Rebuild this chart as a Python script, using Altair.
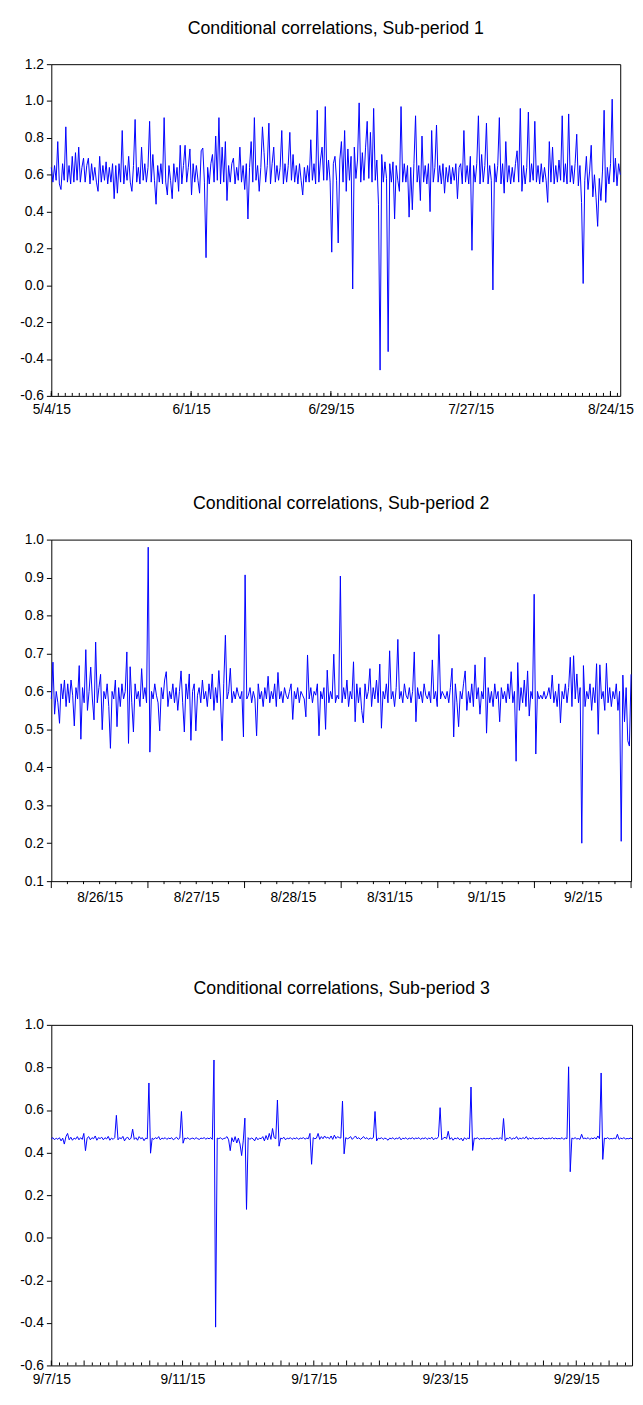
import altair as alt
import pandas as pd

FONT = "Liberation Sans"
TICK_FONT_SIZE = 14
TITLE_FONT_SIZE = 18

# ---------------- Sub-period 1 ----------------
P1_TITLE = "Conditional correlations, Sub-period 1"
P1_VALUES = [
    0.64, 0.56, 0.65, 0.57, 0.78, 0.55, 0.52, 0.66, 0.57, 0.86,
    0.56, 0.65, 0.55, 0.70, 0.56, 0.72, 0.57, 0.75, 0.56, 0.64,
    0.69, 0.56, 0.65, 0.69, 0.55, 0.66, 0.57, 0.64, 0.56, 0.51,
    0.70, 0.56, 0.65, 0.57, 0.67, 0.55, 0.64, 0.56, 0.66, 0.47,
    0.65, 0.50, 0.66, 0.56, 0.84, 0.55, 0.65, 0.57, 0.70, 0.56,
    0.51, 0.65, 0.90, 0.56, 0.64, 0.55, 0.75, 0.57, 0.66, 0.56,
    0.64, 0.89, 0.56, 0.71, 0.57, 0.44, 0.65, 0.56, 0.66, 0.55,
    0.91, 0.56, 0.49, 0.65, 0.57, 0.47, 0.66, 0.56, 0.64, 0.51,
    0.76, 0.55, 0.65, 0.76, 0.56, 0.64, 0.74, 0.49, 0.66, 0.56,
    0.65, 0.57, 0.50, 0.73, 0.745, 0.56, 0.15, 0.64, 0.55, 0.66,
    0.71, 0.56, 0.81, 0.57, 0.91, 0.55, 0.75, 0.56, 0.78, 0.46,
    0.65, 0.56, 0.66, 0.69, 0.55, 0.64, 0.57, 0.75, 0.56, 0.65,
    0.52, 0.66, 0.36, 0.64, 0.78, 0.56, 0.91, 0.57, 0.65, 0.51,
    0.64, 0.86, 0.72, 0.56, 0.65, 0.88, 0.55, 0.66, 0.75, 0.56,
    0.65, 0.57, 0.64, 0.84, 0.55, 0.66, 0.56, 0.65, 0.83, 0.57,
    0.71, 0.56, 0.65, 0.55, 0.66, 0.57, 0.49, 0.64, 0.56, 0.65,
    0.56, 0.79, 0.57, 0.66, 0.55, 0.95, 0.56, 0.68, 0.75, 0.57,
    0.97, 0.57, 0.68, 0.56, 0.18, 0.66, 0.70, 0.57, 0.23, 0.68,
    0.78, 0.56, 0.84, 0.51, 0.74, 0.57, 0.70, -0.02, 0.75, 0.58,
    0.68, 0.99, 0.56, 0.72, 0.57, 0.75, 0.89, 0.58, 0.83, 0.56,
    0.96, 0.57, 0.68, 0.44, -0.46, 0.71, 0.56, 0.67, 0.58, -0.36,
    0.66, 0.56, 0.67, 0.36, 0.65, 0.57, 0.51, 0.97, 0.56, 0.66,
    0.56, 0.65, 0.37, 0.64, 0.41, 0.66, 0.92, 0.56, 0.65, 0.46,
    0.81, 0.56, 0.65, 0.55, 0.66, 0.40, 0.84, 0.56, 0.64, 0.87,
    0.56, 0.65, 0.55, 0.66, 0.50, 0.64, 0.56, 0.65, 0.55, 0.64,
    0.57, 0.66, 0.47, 0.64, 0.66, 0.55, 0.84, 0.56, 0.65, 0.55,
    0.70, 0.19, 0.65, 0.56, 0.66, 0.92, 0.55, 0.71, 0.56, 0.65,
    0.88, 0.55, 0.65, 0.57, -0.025, 0.66, 0.56, 0.65, 0.91, 0.55,
    0.66, 0.50, 0.78, 0.56, 0.65, 0.55, 0.64, 0.56, 0.66, 0.73,
    0.56, 0.96, 0.51, 0.65, 0.55, 0.64, 0.94, 0.56, 0.66, 0.57,
    0.89, 0.56, 0.65, 0.55, 0.66, 0.56, 0.64, 0.57, 0.45, 0.78,
    0.56, 0.75, 0.55, 0.65, 0.56, 0.68, 0.57, 0.92, 0.56, 0.66,
    0.55, 0.93, 0.56, 0.65, 0.55, 0.66, 0.82, 0.54, 0.65, 0.45,
    0.01, 0.57, 0.70, 0.52, 0.62, 0.76, 0.48, 0.60, 0.475, 0.32,
    0.58, 0.46, 0.62, 0.95, 0.45, 0.64, 0.55, 0.66, 1.01, 0.56,
    0.69, 0.54, 0.66, 0.60,
]
P1_DATE_LABELS = ["5/4/15", "6/1/15", "6/29/15", "7/27/15", "8/24/15"]
P1_LABEL_DAYS = [0, 20, 40, 60, 80]          # business-day positions of labels
P1_SPAN_DAYS = 81.4
P1_Y_TICKS = [-0.6, -0.4, -0.2, 0.0, 0.2, 0.4, 0.6, 0.8, 1.0, 1.2]

# ---------------- Sub-period 2 ----------------
P2_TITLE = "Conditional correlations, Sub-period 2"
P2_VALUES = [
    0.58, 0.677, 0.54, 0.60, 0.57, 0.516, 0.62, 0.58, 0.63, 0.56,
    0.62, 0.57, 0.63, 0.59, 0.509, 0.61, 0.58, 0.668, 0.474, 0.61,
    0.57, 0.71, 0.55, 0.60, 0.664, 0.58, 0.525, 0.73, 0.57, 0.61,
    0.645, 0.499, 0.60, 0.58, 0.62, 0.56, 0.45, 0.60, 0.58, 0.63,
    0.507, 0.61, 0.56, 0.62, 0.58, 0.60, 0.704, 0.463, 0.665, 0.57,
    0.493, 0.62, 0.58, 0.60, 0.56, 0.66, 0.58, 0.61, 0.57, 0.98,
    0.44, 0.60, 0.58, 0.62, 0.59, 0.57, 0.496, 0.61, 0.58, 0.63,
    0.652, 0.56, 0.60, 0.58, 0.62, 0.57, 0.61, 0.55, 0.60, 0.654,
    0.57, 0.493, 0.62, 0.58, 0.646, 0.471, 0.60, 0.62, 0.496, 0.59,
    0.61, 0.57, 0.63, 0.58, 0.60, 0.56, 0.62, 0.58, 0.646, 0.55,
    0.61, 0.57, 0.655, 0.58, 0.47, 0.62, 0.748, 0.58, 0.60, 0.661,
    0.57, 0.60, 0.58, 0.61, 0.59, 0.58, 0.60, 0.48, 0.907, 0.58,
    0.59, 0.61, 0.57, 0.60, 0.58, 0.483, 0.62, 0.58, 0.60, 0.56,
    0.61, 0.58, 0.64, 0.57, 0.60, 0.58, 0.62, 0.56, 0.65, 0.58,
    0.60, 0.57, 0.61, 0.59, 0.58, 0.60, 0.62, 0.526, 0.60, 0.58,
    0.61, 0.57, 0.60, 0.59, 0.58, 0.533, 0.696, 0.58, 0.61, 0.57,
    0.60, 0.59, 0.62, 0.483, 0.60, 0.58, 0.61, 0.50, 0.656, 0.57,
    0.60, 0.58, 0.698, 0.57, 0.59, 0.58, 0.904, 0.57, 0.61, 0.58,
    0.63, 0.56, 0.60, 0.58, 0.678, 0.52, 0.62, 0.57, 0.61, 0.55,
    0.517, 0.62, 0.58, 0.60, 0.66, 0.56, 0.61, 0.58, 0.63, 0.57,
    0.672, 0.503, 0.60, 0.58, 0.62, 0.57, 0.707, 0.58, 0.60, 0.56,
    0.61, 0.737, 0.58, 0.60, 0.57, 0.62, 0.59, 0.58, 0.61, 0.57,
    0.60, 0.704, 0.52, 0.61, 0.58, 0.60, 0.57, 0.62, 0.59, 0.58,
    0.60, 0.57, 0.683, 0.58, 0.60, 0.56, 0.75, 0.58, 0.60, 0.59,
    0.58, 0.60, 0.57, 0.61, 0.661, 0.48, 0.62, 0.57, 0.507, 0.60,
    0.58, 0.62, 0.654, 0.55, 0.60, 0.57, 0.62, 0.56, 0.67, 0.58,
    0.61, 0.54, 0.60, 0.58, 0.69, 0.49, 0.61, 0.57, 0.60, 0.56,
    0.62, 0.58, 0.60, 0.52, 0.61, 0.58, 0.60, 0.57, 0.62, 0.58,
    0.652, 0.57, 0.60, 0.416, 0.676, 0.55, 0.61, 0.57, 0.63, 0.56,
    0.654, 0.535, 0.60, 0.58, 0.856, 0.435, 0.60, 0.58, 0.59, 0.58,
    0.60, 0.58, 0.59, 0.61, 0.58, 0.643, 0.57, 0.60, 0.56, 0.62,
    0.517, 0.60, 0.58, 0.62, 0.57, 0.61, 0.69, 0.56, 0.694, 0.58,
    0.646, 0.57, 0.61, 0.20, 0.668, 0.56, 0.60, 0.58, 0.62, 0.55,
    0.61, 0.57, 0.673, 0.487, 0.67, 0.58, 0.60, 0.55, 0.674, 0.57,
    0.61, 0.56, 0.60, 0.58, 0.62, 0.55, 0.60, 0.205, 0.643, 0.52,
    0.61, 0.47, 0.456, 0.645,
]
P2_DATE_LABELS = ["8/26/15", "8/27/15", "8/28/15", "8/31/15", "9/1/15", "9/2/15"]
P2_SPAN_DAYS = 6
P2_Y_TICKS = [0.1, 0.2, 0.3, 0.4, 0.5, 0.6, 0.7, 0.8, 0.9, 1.0]

# ---------------- Sub-period 3 ----------------
P3_TITLE = "Conditional correlations, Sub-period 3"
P3_VALUES = [
    0.465, 0.47, 0.46, 0.468, 0.462, 0.47, 0.455, 0.468, 0.44, 0.475,
    0.49, 0.46, 0.472, 0.458, 0.468, 0.463, 0.475, 0.46, 0.47, 0.462,
    0.49, 0.409, 0.468, 0.475, 0.46, 0.47, 0.465, 0.478, 0.458, 0.47,
    0.466, 0.472, 0.46, 0.47, 0.464, 0.476, 0.458, 0.468, 0.462, 0.47,
    0.575, 0.46, 0.47, 0.465, 0.476, 0.455, 0.468, 0.472, 0.46, 0.468,
    0.51, 0.462, 0.47, 0.458, 0.475, 0.465, 0.47, 0.456, 0.468, 0.465,
    0.727, 0.397, 0.468, 0.462, 0.47, 0.465, 0.475, 0.46, 0.468, 0.465,
    0.47, 0.462, 0.468, 0.465, 0.47, 0.46, 0.466, 0.472, 0.462, 0.468,
    0.593, 0.444, 0.468, 0.465, 0.47, 0.462, 0.466, 0.468, 0.463, 0.47,
    0.465, 0.462, 0.468, 0.466, 0.47, 0.463, 0.468, 0.465, 0.47, 0.462,
    0.835, -0.42, 0.468, 0.465, 0.47, 0.462, 0.466, 0.468, 0.475, 0.46,
    0.409, 0.47, 0.45, 0.475, 0.445, 0.468, 0.44, 0.386, 0.455, 0.562,
    0.133, 0.47, 0.462, 0.468, 0.465, 0.455, 0.472, 0.46, 0.468, 0.465,
    0.475, 0.455, 0.48, 0.46, 0.49, 0.462, 0.513, 0.47, 0.465, 0.647,
    0.43, 0.468, 0.465, 0.472, 0.46, 0.468, 0.465, 0.47, 0.462, 0.468,
    0.465, 0.47, 0.462, 0.468, 0.466, 0.47, 0.463, 0.468, 0.465, 0.49,
    0.345, 0.47, 0.465, 0.468, 0.49, 0.462, 0.475, 0.465, 0.478, 0.468,
    0.472, 0.465, 0.478, 0.462, 0.482, 0.466, 0.475, 0.47, 0.468, 0.642,
    0.394, 0.47, 0.465, 0.468, 0.475, 0.462, 0.47, 0.478, 0.465, 0.47,
    0.462, 0.468, 0.475, 0.465, 0.47, 0.462, 0.468, 0.465, 0.47, 0.593,
    0.455, 0.468, 0.465, 0.47, 0.462, 0.468, 0.465, 0.458, 0.468, 0.465,
    0.47, 0.462, 0.468, 0.465, 0.472, 0.46, 0.468, 0.465, 0.47, 0.462,
    0.468, 0.465, 0.47, 0.463, 0.468, 0.466, 0.47, 0.462, 0.468, 0.465,
    0.47, 0.462, 0.468, 0.465, 0.472, 0.46, 0.468, 0.465, 0.475, 0.611,
    0.46, 0.468, 0.472, 0.465, 0.50, 0.462, 0.47, 0.458, 0.468, 0.465,
    0.47, 0.46, 0.468, 0.455, 0.47, 0.462, 0.468, 0.465, 0.708, 0.41,
    0.468, 0.465, 0.47, 0.462, 0.466, 0.465, 0.468, 0.464, 0.466, 0.465,
    0.468, 0.462, 0.466, 0.465, 0.468, 0.464, 0.47, 0.462, 0.56, 0.455,
    0.468, 0.465, 0.472, 0.462, 0.468, 0.465, 0.475, 0.462, 0.468, 0.465,
    0.47, 0.465, 0.475, 0.462, 0.468, 0.465, 0.47, 0.464, 0.466, 0.465,
    0.468, 0.465, 0.47, 0.464, 0.466, 0.465, 0.468, 0.465, 0.47, 0.464,
    0.468, 0.465, 0.466, 0.465, 0.47, 0.462, 0.468, 0.465, 0.803, 0.31,
    0.468, 0.465, 0.47, 0.464, 0.466, 0.462, 0.486, 0.465, 0.468, 0.465,
    0.47, 0.462, 0.468, 0.465, 0.47, 0.464, 0.478, 0.465, 0.774, 0.368,
    0.468, 0.465, 0.47, 0.464, 0.466, 0.465, 0.468, 0.465, 0.486, 0.462,
    0.468, 0.465, 0.47, 0.464, 0.466, 0.465, 0.468, 0.465,
]
P3_DATE_LABELS = ["9/7/15", "9/11/15", "9/17/15", "9/23/15", "9/29/15"]
P3_LABEL_DAYS = [0, 4, 8, 12, 16]
P3_SPAN_DAYS = 17.7
P3_Y_TICKS = [-0.6, -0.4, -0.2, 0.0, 0.2, 0.4, 0.6, 0.8, 1.0]


def series_frame(values, span):
    n = len(values)
    return pd.DataFrame({"t": [span * i / (n - 1) for i in range(n)], "v": values})


def make_panel(title, values, span, y_ticks, label_vals, label_texts, index_expr,
               major, minor, width, height, inward, label_pad, title_offset):
    xscale = alt.Scale(domain=[0, span], nice=False, zero=False)
    yscale = alt.Scale(domain=[y_ticks[0], y_ticks[-1]], nice=False, zero=False)
    arr = "[" + ",".join("'%s'" % s for s in label_texts) + "]"
    xaxis = alt.Axis(values=label_vals, labelExpr="%s[%s]" % (arr, index_expr),
                     ticks=False, tickSize=0, domain=False, grid=False, title=None,
                     labelFont=FONT, labelFontSize=TICK_FONT_SIZE, labelColor="black",
                     labelPadding=label_pad, labelFlush=False, labelOverlap=False)
    yaxis = alt.Axis(values=y_ticks, format=".1f",
                     labelExpr="replace(datum.label, '\u2212', '-')",
                     ticks=True, tickSize=5, tickColor="black", tickWidth=1,
                     domain=False, grid=False, title=None,
                     labelFont=FONT, labelFontSize=TICK_FONT_SIZE, labelColor="black",
                     labelPadding=3)
    line = alt.Chart(series_frame(values, span)).mark_line(
        color="#0000ff", strokeWidth=1
    ).encode(
        x=alt.X("t:Q", scale=xscale, axis=xaxis),
        y=alt.Y("v:Q", scale=yscale, axis=yaxis),
    )
    if inward:
        ymaj, ymin = height - 5, height - 3
    else:
        ymaj, ymin = height + 7, height + 3
    minor_rule = alt.Chart(pd.DataFrame({"t": minor})).mark_rule(
        color="black", strokeWidth=1
    ).encode(x=alt.X("t:Q", scale=xscale), y=alt.value(height), y2=alt.value(ymin))
    major_rule = alt.Chart(pd.DataFrame({"t": major})).mark_rule(
        color="black", strokeWidth=1
    ).encode(x=alt.X("t:Q", scale=xscale), y=alt.value(height), y2=alt.value(ymaj))
    return alt.layer(line, minor_rule, major_rule).properties(
        width=width, height=height,
        title=alt.TitleParams(title, font=FONT, fontSize=TITLE_FONT_SIZE, fontWeight="normal",
                              color="black", anchor="middle", frame="group",
                              offset=title_offset),
    )


p1 = make_panel(P1_TITLE, P1_VALUES, P1_SPAN_DAYS, P1_Y_TICKS, P1_LABEL_DAYS,
                P1_DATE_LABELS, "round(datum.value/20)",
                major=P1_LABEL_DAYS, minor=[d for d in range(0, 82)],
                width=578, height=337, inward=True, label_pad=7, title_offset=20)

p2_label_pos = [k + 0.5 for k in range(P2_SPAN_DAYS)]
p2 = make_panel(P2_TITLE, P2_VALUES, P2_SPAN_DAYS, P2_Y_TICKS, p2_label_pos,
                P2_DATE_LABELS, "floor(datum.value)",
                major=list(range(0, P2_SPAN_DAYS + 1)),
                minor=[k + j / 6 for k in range(P2_SPAN_DAYS) for j in range(1, 6)],
                width=589, height=347, inward=False, label_pad=10, title_offset=20)

p3 = make_panel(P3_TITLE, P3_VALUES, P3_SPAN_DAYS, P3_Y_TICKS, P3_LABEL_DAYS,
                P3_DATE_LABELS, "round(datum.value/4)",
                major=list(range(0, 18)),
                minor=[k + j / 4 for k in range(0, 18) for j in range(1, 4) if k + j / 4 < P3_SPAN_DAYS],
                width=590, height=346, inward=True, label_pad=7, title_offset=20)

chart = alt.vconcat(p1, p2, p3, spacing=146, bounds="flush").properties(
    padding={"left": 11, "top": 0, "right": 0, "bottom": 0}
).configure_view(stroke="black", strokeWidth=1)

chart.save("out.html", embed_options={"renderer": "svg", "actions": False})
